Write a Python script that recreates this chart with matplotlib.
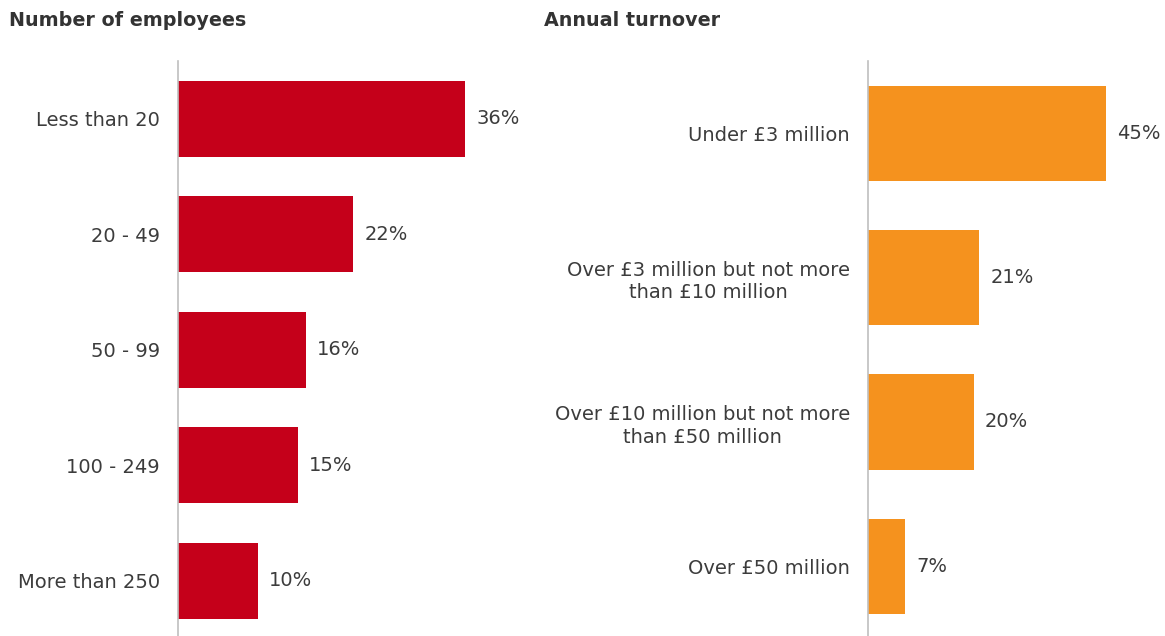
import matplotlib.pyplot as plt

# 员工人数分布
emp_labels = ["Less than 20", "20 - 49", "50 - 99", "100 - 249", "More than 250"]
emp_values = [36, 22, 16, 15, 10]

# 年营业额分布
turn_labels = ["Under £3 million",
               "Over £3 million but not more\nthan £10 million",
               "Over £10 million but not more\nthan £50 million",
               "Over £50 million"]
turn_values = [45, 21, 20, 7]

W, H = 1165, 636
text_color = "#3c3c3c"
plt.rcParams['font.family'] = ['DejaVu Sans']

fig = plt.figure(figsize=(W / 100, H / 100), dpi=100)


def draw_panel(rect, labels, values, color, xmax, title, title_x):
    ax = fig.add_axes(rect)
    y = list(range(len(labels)))
    ax.barh(y, values, height=0.66, color=color)
    ax.set_ylim(len(labels) - 0.5, -0.5)
    ax.set_xlim(0, xmax)
    ax.set_yticks(y)
    ax.set_yticklabels(labels, fontsize=14, color=text_color,
                       multialignment='center', linespacing=1.25)
    ax.tick_params(axis='y', length=0, pad=13)
    ax.set_xticks([])
    for s in ['top', 'right', 'bottom']:
        ax.spines[s].set_visible(False)
    ax.spines['left'].set_color('#bfbfbf')
    ax.spines['left'].set_linewidth(1.2)
    for yi, v in zip(y, values):
        ax.annotate(f"{v}%", (v, yi), xytext=(8, 0), textcoords='offset points',
                    va='center', ha='left', fontsize=14, color=text_color)
    fig.text(title_x / W, 1 - 21 / H, title, fontsize=13.8, fontweight='bold',
             color='#333333', va='center', ha='left')
    return ax


# 左图: 0 点在 x=178, 约 7.97 px 每 %
draw_panel([178 / W, -2.5 / H, 342 / W, (H - 61 + 2.5) / H], emp_labels, emp_values,
           '#C5001A', 342 / 7.97, "Number of employees", 9)
# 右图: 0 点在 x=868, 约 5.29 px 每 %
draw_panel([868 / W, -2.5 / H, 290 / W, (H - 61 + 2.5) / H], turn_labels, turn_values,
           '#F5921E', 290 / 5.29, "Annual turnover", 544)

fig.savefig("out.png", dpi=100)
